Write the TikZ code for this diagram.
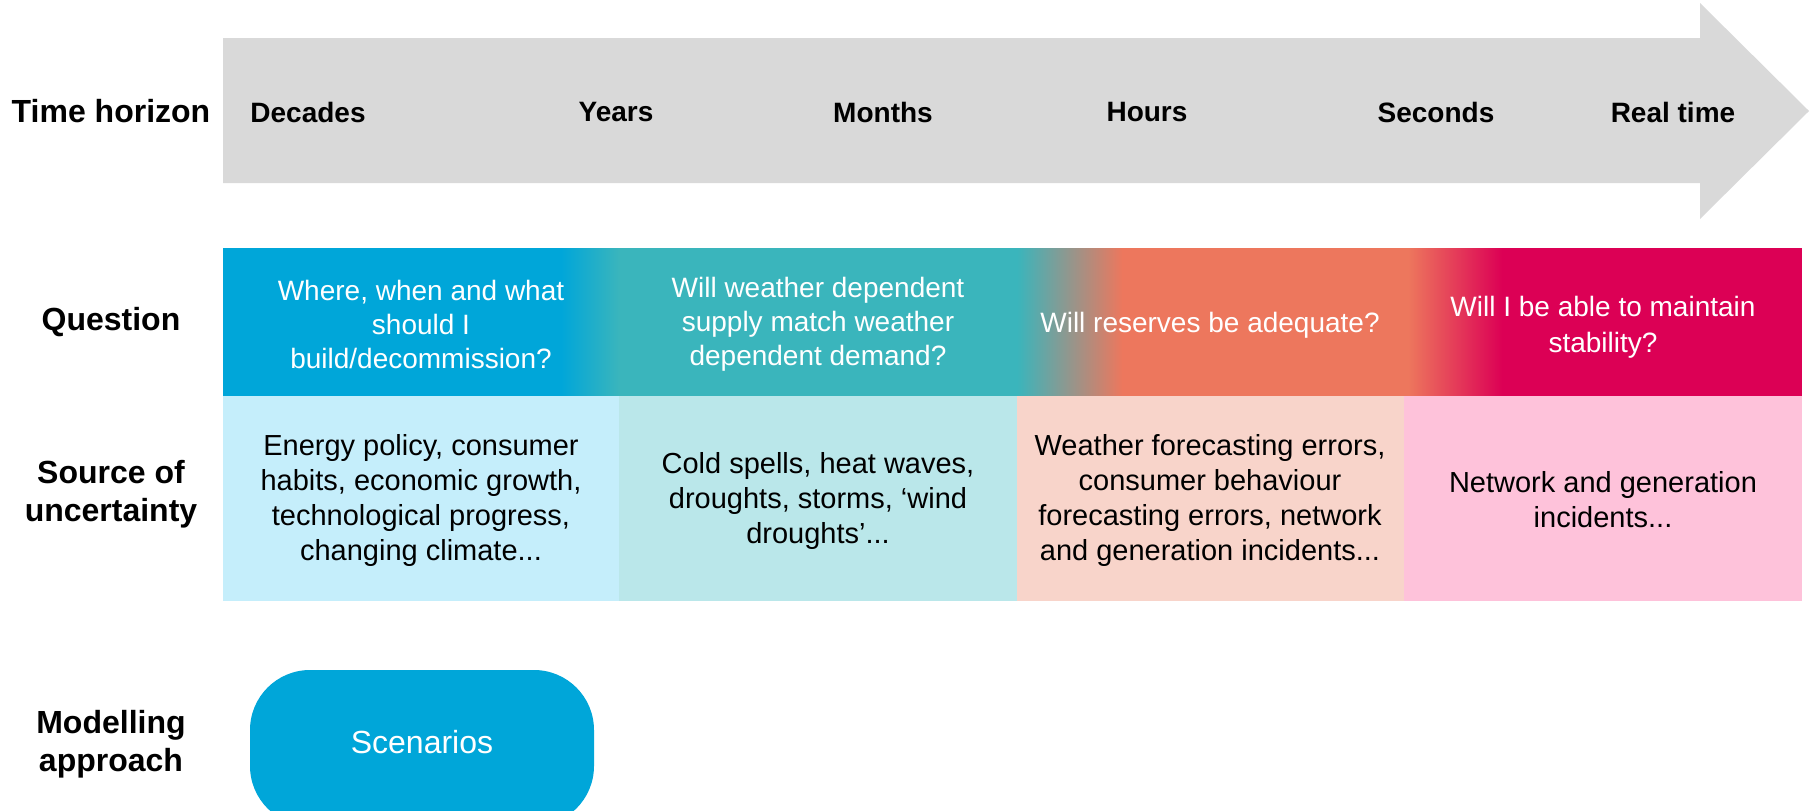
\documentclass[tikz,border=0pt]{standalone}
\usepackage{fontspec}
\setmainfont{Liberation Sans}
\definecolor{arrowgray}{HTML}{D9D9D9}
\definecolor{qblue}{HTML}{00A6D9}
\definecolor{qteal}{HTML}{3AB5BC}
\definecolor{qcoral}{HTML}{ED775D}
\definecolor{qmag}{HTML}{DC0055}
\definecolor{ublue}{HTML}{C5EEFB}
\definecolor{uteal}{HTML}{BAE7EA}
\definecolor{ucoral}{HTML}{F8D4CA}
\definecolor{upink}{HTML}{FEC2DA}
\tikzset{
  rowlabel/.style={align=center, inner sep=0pt, font=\fontsize{32}{38}\selectfont\bfseries},
  timelabel/.style={inner sep=0pt, font=\fontsize{28}{34}\selectfont\bfseries},
  qtext/.style={align=center, inner sep=0pt, text=white, font=\fontsize{28}{34}\selectfont},
  utext/.style={align=center, inner sep=0pt, text=black, font=\fontsize{29}{35}\selectfont},
  scenbox/.style={fill=qblue, rounded corners=60pt, minimum width=344pt, minimum height=156pt, text=white, font=\fontsize{32}{38}\selectfont, inner sep=0pt}
}
\begin{document}
\begin{tikzpicture}[x=1pt,y=-1pt]
\useasboundingbox (0,0) rectangle (1816,811);
% time arrow
\fill[arrowgray] (223,38) -- (1700,38) -- (1700,3) -- (1809,111) -- (1700,219) -- (1700,183) -- (223,183) -- cycle;
\node[rowlabel] (lt) at (111,111) {Time horizon};
\node[timelabel] (t1) at (308,112) {Decades};
\node[timelabel] (t2) at (616,112) {Years};
\node[timelabel] (t3) at (883,112) {Months};
\node[timelabel] (t4) at (1147,112) {Hours};
\node[timelabel] (t5) at (1436,112) {Seconds};
\node[timelabel] (t6) at (1673,112) {Real time};
% question row
\fill[qblue] (223,248) rectangle (561.5,396);
\shade[left color=qblue, right color=qteal] (561,248) rectangle (619.5,396);
\fill[qteal] (619,248) rectangle (1017.5,396);
\shade[left color=qteal, right color=qcoral] (1017,248) rectangle (1122.5,396);
\fill[qcoral] (1122,248) rectangle (1408.5,396);
\shade[left color=qcoral, right color=qmag] (1408,248) rectangle (1502.5,396);
\fill[qmag] (1502,248) rectangle (1802,396);
% uncertainty row
\fill[ublue] (223,396) rectangle (619.5,601);
\fill[uteal] (619,396) rectangle (1017.5,601);
\fill[ucoral] (1017,396) rectangle (1404.5,601);
\fill[upink] (1404,396) rectangle (1802,601);
% labels
\node[rowlabel] (lq) at (111,322) {Question};
\node[rowlabel] (lu) at (111,494) {Source of\\uncertainty};
\node[rowlabel] (lm) at (111,744) {Modelling\\approach};
% question texts
\node[qtext] (q1) at (421,324) {Where, when and what\\should I\\build/decommission?};
\node[qtext] (q2) at (818,324) {Will weather dependent\\supply match weather\\dependent demand?};
\node[qtext] (q3) at (1210,325) {Will reserves be adequate?};
\node[qtext, font=\fontsize{28}{36}\selectfont] (q4) at (1603,327) {Will I be able to maintain\\stability?};
% uncertainty texts
\node[utext] (u1) at (421,500) {Energy policy, consumer\\habits, economic growth,\\technological progress,\\changing climate...};
\node[utext] (u2) at (818,501) {Cold spells, heat waves,\\droughts, storms, ‘wind\\droughts’...};
\node[utext] (u3) at (1210,500) {Weather forecasting errors,\\consumer behaviour\\forecasting errors, network\\and generation incidents...};
\node[utext] (u4) at (1603,500) {Network and generation\\incidents...};
% modelling approach
\begin{scope}
\clip (0,0) rectangle (1816,811);
\node[scenbox] (scen) at (422,748) {};
\end{scope}
\node[text=white, font=\fontsize{32}{38}\selectfont, inner sep=0pt] (scentext) at (422,742) {Scenarios};
\end{tikzpicture}
\end{document}
